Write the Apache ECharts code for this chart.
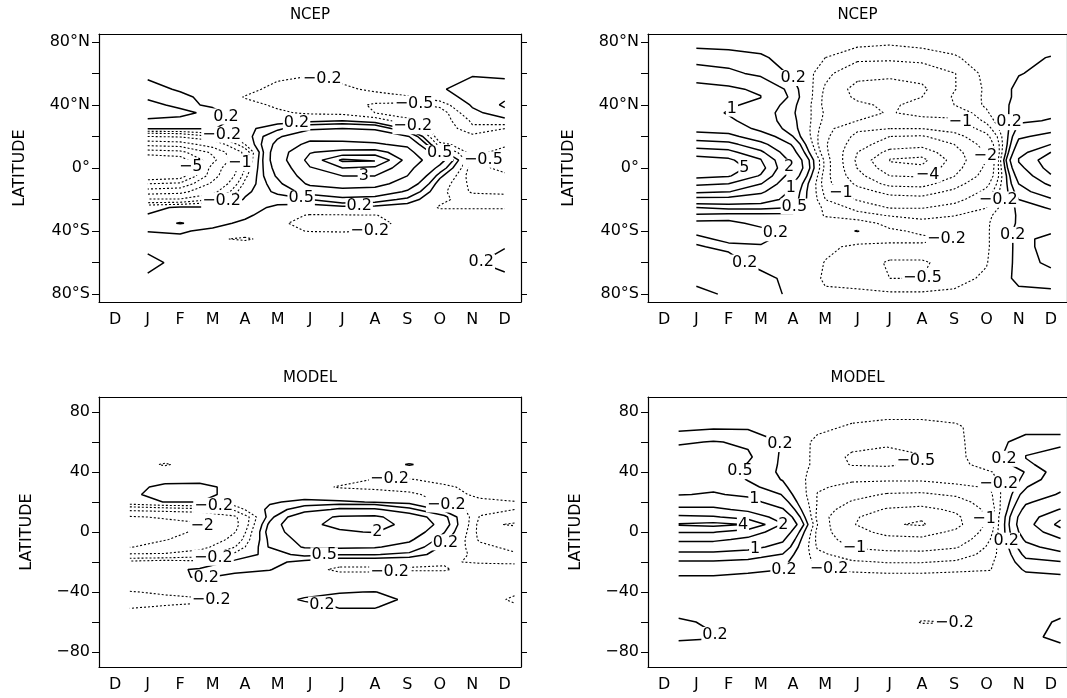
<!DOCTYPE html>
<html>
<head>
<meta charset="utf-8">
<title>NCEP / MODEL</title>
<script src="https://cdn.jsdelivr.net/npm/echarts@6.0.0/dist/echarts.min.js"></script>
<style>
  html, body { margin: 0; padding: 0; background: #fff; }
  #chart { width: 1067px; height: 698px; }
</style>
</head>
<body>
<div id="chart"></div>
<script>
// month labels, D J F ... D
const months = ['D','J','F','M','A','M','J','J','A','S','O','N','D'];
// latitude of each grid row (north to south)
const lats = [80,70,60,50,45,40,35,30,25,20,15,10,5,0,-5,-10,-15,-20,-25,-30,-35,-40,-45,-50,-60,-70,-80];
// month position of the columns: NCEP is Jan..Dec, model output is slightly shifted
const ncepX = [1,2,3,4,5,6,7,8,9,10,11,12];
const modelX = [0.45,1.53,2.6,3.68,4.76,5.83,6.91,7.99,9.06,10.14,11.22,12.3];
// contour levels (negative ones dashed)
const levels = [-5,-4,-3,-2,-1,-0.5,-0.2,0.2,0.5,1,2,3,4,5];
// latitude ticks
const ncepTicks = [-80,-60,-40,-20,0,20,40,60,80];
const ncepTickLabels = [-80,-40,0,40,80];
const modelTicks = [-80,-60,-40,-20,0,20,40,60,80];
const modelTickLabels = [-80,-40,0,40,80];

// NCEP, left panel (rows = lats, cols = ncepX)
const ncepLeft = [
  [0,0,0,0,0,0,0,0,0,0,0,0],
  [0,0,0,0,0,0,0,0,0,0,0.05,0],
  [0.1,0.05,0,0,-0.1,-0.18,-0.1,-0.05,0,0.1,0.15,0.1],
  [0.35,0.15,0,-0.1,-0.3,-0.3,-0.25,-0.15,-0.1,0.15,0.4,0.4],
  [0.25,0.3,0.05,-0.22,-0.3,-0.35,-0.35,-0.3,-0.22,0,0.35,0.45],
  [0.1,0.28,0.15,-0.1,-0.25,-0.3,-0.35,-0.55,-0.6,-0.4,0.25,0.55],
  [0.05,0.1,0.3,0,-0.15,-0.25,-0.3,-0.5,-0.7,-0.7,0.1,0.4],
  [0.25,0.3,0.3,0.1,0.05,0.1,0.2,0,-0.4,-0.7,-0.15,0.1],
  [0.22,0.22,0.21,0.1,0.4,0.9,1.0,0.9,0.1,-0.8,-0.25,-0.5],
  [-1.0,-0.9,-0.5,0,0.9,1.6,1.7,1.6,1.1,-0.8,-0.6,-0.6],
  [-2.7,-2.5,-1.5,-0.2,1.2,2.3,2.2,2.1,1.8,-0.4,-0.7,-0.6],
  [-4.5,-4.3,-2.8,-0.8,1.5,2.95,3.3,3.4,2.4,0.4,-0.7,-0.3],
  [-6,-5.6,-3.3,-0.7,1.5,3.3,5.2,5.15,2.6,1.3,-0.6,-0.3],
  [-7,-6.2,-2.6,-0.5,1.3,2.95,4.0,3.8,2.3,0.8,-0.7,-0.35],
  [-6,-5.6,-2.4,-0.3,1.1,2.6,3.0,3.0,2.0,0.3,-0.7,-0.6],
  [-4,-3.8,-1.8,-0.1,0.8,2.2,2.5,2.4,1.5,0,-0.6,-0.7],
  [-2.5,-2.3,-1.2,0.1,0.6,1.3,1.6,1.5,0.9,-0.1,-0.55,-0.55],
  [-0.9,-0.9,-0.5,0.25,0.3,0.5,0.8,0.7,0.4,-0.15,-0.3,-0.4],
  [0.1,0.25,0.25,0.3,0.15,0,0.1,0.1,0,-0.22,-0.22,-0.22],
  [0.22,0.3,0.3,0.3,-0.1,-0.22,-0.22,-0.21,-0.1,-0.1,-0.1,-0.1],
  [0.35,0.52,0.35,0.1,-0.15,-0.3,-0.3,-0.25,-0.15,0,0,0],
  [0.21,0.25,0.1,0,-0.15,-0.21,-0.22,-0.2,-0.1,0,0,0],
  [0.1,0.12,-0.15,-0.25,-0.05,-0.05,-0.05,-0.05,0,0,0.05,0.05],
  [0.12,0.1,0.05,0,0,0,0,0,0,0,0.1,0.18],
  [0.3,0.1,0,0,0,0,0,0,0,0,0.15,0.35],
  [0.15,0.05,0,0,0,0,0,0,0,0,0.05,0.1],
  [0,0,0,0,0,0,0,0,0,0,0,0]
];

// NCEP, right panel
const ncepRight = [
  [0.1,0.1,0.05,0,0,-0.1,-0.15,-0.1,0,0,0,0],
  [0.35,0.3,0.25,0.05,-0.2,-0.4,-0.4,-0.35,-0.25,0,0.1,0.22],
  [0.7,0.6,0.4,0.15,-0.4,-0.8,-0.9,-0.8,-0.52,-0.1,0.18,0.3],
  [1.2,1.1,0.9,0.35,-0.55,-1.2,-1.2,-1.1,-0.52,-0.15,0.3,0.35],
  [1.3,1.15,1.02,0.4,-0.6,-1.1,-1.1,-1.0,-0.45,-0.15,0.3,0.4],
  [1.4,1.1,0.8,0.3,-0.6,-0.9,-1.1,-0.8,-0.5,-0.15,0.35,0.4],
  [1.3,0.95,0.7,0.25,-0.55,-0.8,-1.05,-0.8,-0.8,-0.25,0.4,0.45],
  [1.2,1.1,0.7,0.3,-0.6,-1.0,-1.1,-1.2,-1.1,-0.4,0.45,0.52],
  [1.6,1.5,0.8,0.35,-0.7,-1.8,-2.0,-2.0,-1.6,-0.7,0.6,0.8],
  [2.5,2.3,1.4,0.5,-0.8,-2.3,-3.0,-3.1,-2.4,-1.2,0.9,1.2],
  [3.5,3.3,2.3,0.9,-0.9,-2.6,-3.5,-3.7,-3.0,-1.6,1.2,2.0],
  [4.5,4.3,3.2,1.2,-0.8,-3.0,-4.3,-4.5,-3.4,-1.9,1.6,3.0],
  [5.5,5.2,4.1,1.6,-0.6,-3.2,-5.1,-5.3,-3.6,-2.0,2.1,3.6],
  [5.8,5.6,4.4,1.7,-0.6,-3.05,-4.6,-4.8,-3.4,-1.8,1.7,3.4],
  [5.3,5.1,3.9,1.4,-0.7,-2.7,-4.0,-4.1,-3.05,-1.6,1.3,2.9],
  [4.2,4.0,3.05,1.0,-0.7,-2.2,-3.3,-3.4,-2.4,-1.2,1.0,2.2],
  [3.2,3.05,2.2,0.8,-0.6,-1.6,-2.3,-2.4,-1.8,-0.8,0.7,1.5],
  [1.6,1.6,1.4,0.7,-0.5,-1.05,-1.6,-1.7,-1.2,-0.6,0.5,0.9],
  [0.5,0.6,0.6,0.52,-0.3,-0.6,-1.05,-1.05,-0.8,-0.52,0.3,0.55],
  [0.15,0.1,0.1,0.1,-0.22,-0.4,-0.52,-0.6,-0.52,-0.3,0.25,0.35],
  [0.22,0.25,0.15,0.05,-0.1,-0.05,-0.3,-0.4,-0.3,-0.25,0.25,0.3],
  [0.25,0.3,0.25,0.15,0,0.22,-0.15,-0.25,-0.25,-0.25,0.3,0.25],
  [0.15,0.25,0.25,0.1,-0.1,-0.1,-0.15,-0.15,-0.21,-0.25,0.3,0.1],
  [0.22,0.15,0.18,0.05,-0.15,-0.25,-0.25,-0.25,-0.25,-0.25,0.3,0.1],
  [0.35,0.3,0.1,0,-0.21,-0.3,-0.55,-0.55,-0.35,-0.22,0.3,0.15],
  [0.3,0.4,0.3,0.1,-0.25,-0.3,-0.5,-0.5,-0.3,-0.15,0.3,0.3],
  [0.1,0.25,0.3,0.15,-0.15,-0.15,-0.15,-0.15,-0.15,-0.1,0.1,0.15]
];

// MODEL, left panel (cols = modelX)
const modelLeft = [
  [0,0,0,0,0,0,0,0,0,0,0,0],
  [0,0,0,0,0,0,0,0,0,0,0,0],
  [0,0,0,0,0,0,0,0,0,0,0,0],
  [-0.05,-0.1,-0.05,0,0,0,0,0,0.05,0.05,0,0],
  [-0.1,-0.22,-0.1,0,0,0,0,0.05,0.22,0.05,0,0],
  [-0.05,-0.1,-0.05,0,0,0,0,0,0.05,0,0,0],
  [0,0.1,0.1,0,0,-0.05,-0.1,-0.21,-0.22,-0.1,0,0],
  [0.1,0.28,0.3,0.1,-0.05,-0.1,-0.22,-0.25,-0.3,-0.25,-0.1,0],
  [0.15,0.3,0.3,0.1,0,0,-0.05,-0.1,-0.15,-0.3,-0.15,0],
  [0.05,0.21,0.21,0,0.15,0.3,0.25,0.18,0.1,-0.3,-0.25,-0.22],
  [-0.8,-0.7,-0.6,-0.4,0.3,0.7,1.1,1.1,0.6,0.1,-0.4,-0.5],
  [-2.1,-1.9,-1.7,-1.1,0.35,1.6,2.1,2.2,1.4,0.6,-0.52,-0.7],
  [-2.4,-2.3,-2.1,-1.2,0.6,1.8,2.2,2.4,1.7,0.7,-0.6,-0.45],
  [-2.3,-2.2,-1.9,-1.05,0.7,1.4,1.9,2.05,1.4,0.52,-0.6,-0.75],
  [-2.2,-2.05,-1.6,-0.8,0.6,1.2,1.4,1.4,1.1,0.3,-0.55,-0.8],
  [-2.05,-1.6,-1.2,-0.52,0.55,1.05,1.1,1.05,0.8,0.1,-0.4,-0.6],
  [-0.9,-0.9,-0.7,-0.1,0.35,0.6,0.52,0.52,0.4,0,-0.3,-0.45],
  [-0.1,0,-0.1,0.3,0.3,0.1,-0.1,-0.1,-0.15,-0.18,-0.22,-0.25],
  [0,0.1,0.25,0.3,0.22,-0.1,-0.25,-0.25,-0.22,-0.22,-0.1,-0.05],
  [0,0.05,0.25,0.1,0,-0.05,-0.1,-0.1,-0.1,-0.1,0,0],
  [0,0,0.1,0,0,0,0,0,0,0,0,0],
  [-0.22,-0.15,-0.05,0,0,0.05,0.18,0.21,0.05,0,-0.05,-0.15],
  [-0.3,-0.28,-0.25,-0.1,0,0.25,0.3,0.3,0.15,0,-0.05,-0.25],
  [-0.22,-0.18,-0.15,-0.05,0,0.05,0.22,0.22,0.05,0,0,-0.15],
  [0,0,0,0,0,0,0,0,0,0,0,0],
  [0,0,0,0,0,0,0,0,0,0,0,0],
  [0,0,0,0,0,0,0,0,0,0,0,0]
];

// MODEL, right panel
const modelRight = [
  [0,0,0,0,0,-0.05,-0.1,-0.1,-0.05,0,0,0],
  [0.1,0.15,0.15,0.1,-0.1,-0.25,-0.3,-0.3,-0.25,0,0.1,0.05],
  [0.45,0.52,0.45,0.18,-0.3,-0.4,-0.45,-0.4,-0.3,0.1,0.3,0.35],
  [0.7,0.75,0.55,0.15,-0.3,-0.55,-0.6,-0.52,-0.3,0.05,0.52,0.8],
  [0.75,0.8,0.48,0.15,-0.3,-0.52,-0.55,-0.45,-0.3,-0.05,0.4,0.8],
  [0.8,0.8,0.4,0.15,-0.35,-0.35,-0.35,-0.35,-0.3,-0.22,0.22,0.7],
  [0.85,0.8,0.48,0.18,-0.4,-0.45,-0.45,-0.45,-0.35,-0.3,0.3,0.75],
  [0.9,0.9,0.6,0.3,-0.45,-0.6,-0.7,-0.7,-0.6,-0.45,0.48,0.9],
  [0.97,1.05,0.9,0.48,-0.52,-0.8,-1.05,-1.1,-0.9,-0.55,0.7,1.05],
  [1.5,1.5,1.2,0.7,-0.52,-1.05,-1.5,-1.6,-1.3,-0.6,0.9,1.4],
  [2.2,2.2,1.8,1.05,-0.55,-1.4,-2.1,-2.3,-1.8,-0.7,1.2,2.05],
  [3.2,3.1,2.6,1.6,-0.6,-1.8,-2.7,-2.9,-2.2,-0.7,1.5,2.8],
  [4.1,4.3,3.95,2.05,-0.5,-1.9,-2.9,-3.1,-2.3,-0.7,1.6,3.3],
  [3.05,3.05,2.5,1.5,-0.6,-1.6,-2.3,-2.4,-1.8,-0.6,1.4,2.6],
  [2.2,2.2,1.8,1.1,-0.6,-1.3,-1.7,-1.8,-1.4,-0.48,1.1,1.9],
  [1.4,1.4,1.2,0.8,-0.55,-1.05,-1.2,-1.25,-1.05,-0.4,0.8,1.3],
  [0.8,0.8,0.7,0.48,-0.4,-0.7,-0.8,-0.8,-0.7,-0.35,0.6,0.8],
  [0.45,0.45,0.4,0.3,-0.3,-0.45,-0.52,-0.52,-0.45,-0.25,0.4,0.48],
  [0.3,0.3,0.25,0.22,-0.15,-0.25,-0.3,-0.3,-0.25,-0.22,0.25,0.3],
  [0.18,0.18,0.15,0.1,-0.05,-0.1,-0.1,-0.1,-0.1,-0.05,0.1,0.15],
  [0.1,0.1,0.05,0.05,0,0,0,0,0,0,0.05,0.05],
  [0.05,0.05,0,0,0,0,0,0,0,0,0,0],
  [0,0,0,0,0,0,0,0,0,0,0,0],
  [0.05,0.05,0,0,0,0,0,0,0,0,0,0.05],
  [0.25,0.15,0,0,0,0,0,-0.22,-0.21,0,0.05,0.25],
  [0.25,0.22,0,0,0,0,0,0,0,0,0.1,0.3],
  [0.05,0.05,0,0,0,0,0,0,0,0,0,0.05]
];

const FONT = 'DejaVu Sans, Verdana, sans-serif';
const W = 422;

const latFmt = v => v > 0 ? v + '°N' : v < 0 ? (-v) + '°S' : '0°';
const numFmt = v => v < 0 ? '\u2212' + (-v) : String(v);

const panels = [
  { name: 'NCEP',  xs: ncepX,  z: ncepLeft,   left: 99,  top: 34,  height: 268, yMin: -85, yMax: 85, ticks: ncepTicks,  tickLabels: ncepTickLabels,  fmt: latFmt, nameGap: 71 },
  { name: 'NCEP',  xs: ncepX,  z: ncepRight,  left: 648, top: 34,  height: 268, yMin: -85, yMax: 85, ticks: ncepTicks,  tickLabels: ncepTickLabels,  fmt: latFmt, nameGap: 71 },
  { name: 'MODEL', xs: modelX, z: modelLeft,  left: 99,  top: 397, height: 270, yMin: -90, yMax: 90, ticks: modelTicks, tickLabels: modelTickLabels, fmt: numFmt, nameGap: 64 },
  { name: 'MODEL', xs: modelX, z: modelRight, left: 648, top: 397, height: 270, yMin: -90, yMax: 90, ticks: modelTicks, tickLabels: modelTickLabels, fmt: numFmt, nameGap: 64 }
];

// marching squares on the (xs, lats) grid, returns polylines in data units
function traceContours(xs, z, level) {
  const pts = {}, adj = {};
  const R = lats.length, C = xs.length;
  const edge = (key, xa, ya, va, xb, yb, vb) => {
    if (!(key in pts)) {
      const t = (level - va) / (vb - va);
      pts[key] = [xa + t * (xb - xa), ya + t * (yb - ya)];
    }
    return key;
  };
  const link = (a, b) => {
    (adj[a] = adj[a] || []).push(b);
    (adj[b] = adj[b] || []).push(a);
  };
  for (let r = 0; r < R - 1; r++) {
    for (let c = 0; c < C - 1; c++) {
      const v0 = z[r][c], v1 = z[r][c + 1], v2 = z[r + 1][c + 1], v3 = z[r + 1][c];
      const x0 = xs[c], x1 = xs[c + 1], y0 = lats[r], y1 = lats[r + 1];
      const code = (v0 > level ? 1 : 0) | (v1 > level ? 2 : 0) | (v2 > level ? 4 : 0) | (v3 > level ? 8 : 0);
      if (code === 0 || code === 15) continue;
      const E = [
        () => edge('h' + r + '_' + c, x0, y0, v0, x1, y0, v1),
        () => edge('v' + r + '_' + (c + 1), x1, y0, v1, x1, y1, v2),
        () => edge('h' + (r + 1) + '_' + c, x0, y1, v3, x1, y1, v2),
        () => edge('v' + r + '_' + c, x0, y0, v0, x0, y1, v3)
      ];
      const centre = (v0 + v1 + v2 + v3) / 4 > level;
      let pairs;
      switch (code) {
        case 1: case 14: pairs = [[3, 0]]; break;
        case 2: case 13: pairs = [[0, 1]]; break;
        case 3: case 12: pairs = [[3, 1]]; break;
        case 4: case 11: pairs = [[1, 2]]; break;
        case 6: case 9: pairs = [[0, 2]]; break;
        case 7: case 8: pairs = [[3, 2]]; break;
        case 5: pairs = centre ? [[0, 1], [2, 3]] : [[3, 0], [1, 2]]; break;
        case 10: pairs = centre ? [[3, 0], [1, 2]] : [[0, 1], [2, 3]]; break;
      }
      pairs.forEach(p => link(E[p[0]](), E[p[1]]()));
    }
  }
  const used = new Set();
  const lines = [];
  const walk = start => {
    const chain = [start];
    used.add(start);
    let cur = start;
    for (;;) {
      const nb = (adj[cur] || []).find(k => !used.has(k));
      if (!nb) break;
      chain.push(nb);
      used.add(nb);
      cur = nb;
    }
    if (chain.length > 2 && (adj[cur] || []).includes(start)) chain.push(start);
    return chain.map(k => pts[k]);
  };
  Object.keys(adj).filter(k => adj[k].length === 1).forEach(k => { if (!used.has(k)) lines.push(walk(k)); });
  Object.keys(adj).forEach(k => { if (!used.has(k)) lines.push(walk(k)); });
  return lines;
}

// point at a fraction of a polyline's pixel length
function pointAlong(line, seg, total, frac) {
  let rest = total * frac, k = 0;
  while (k < seg.length - 1 && rest > seg[k]) { rest -= seg[k]; k++; }
  const t = seg[k] ? rest / seg[k] : 0;
  return [line[k][0] + t * (line[k + 1][0] - line[k][0]), line[k][1] + t * (line[k + 1][1] - line[k][1])];
}

const grid = [], xAxis = [], yAxis = [], series = [];
const axisLineStyle = { color: '#000', width: 1.2 };

panels.forEach((p, i) => {
  grid.push({ left: p.left, top: p.top, width: W, height: p.height });
  xAxis.push({
    type: 'category', gridIndex: i, data: months, position: 'bottom', boundaryGap: true,
    axisLine: { onZero: false, lineStyle: axisLineStyle },
    axisTick: { interval: 0, length: 5, lineStyle: { color: '#000' } },
    axisLabel: { interval: 0, color: '#000', fontSize: 16, margin: 10, fontFamily: FONT },
    splitLine: { show: false }
  });
  xAxis.push({
    type: 'category', gridIndex: i, data: months, position: 'top', boundaryGap: true,
    axisLine: { onZero: false, lineStyle: axisLineStyle },
    axisTick: { interval: 0, length: 4, lineStyle: { color: '#000' } },
    axisLabel: { show: false },
    name: p.name, nameLocation: 'middle', nameGap: 11,
    nameTextStyle: { color: '#000', fontSize: 15, fontFamily: FONT }
  });
  xAxis.push({ type: 'value', gridIndex: i, min: -0.5, max: 12.5, show: false, axisLine: { onZero: false } });
  yAxis.push({
    type: 'value', gridIndex: i, min: p.yMin, max: p.yMax, position: 'left',
    axisLine: { show: true, onZero: false, lineStyle: axisLineStyle },
    axisTick: { show: true, length: 7, customValues: p.ticks, lineStyle: { color: '#000' } },
    axisLabel: { customValues: p.tickLabels, formatter: p.fmt, color: '#000', fontSize: 16, margin: 9, fontFamily: FONT },
    splitLine: { show: false },
    name: 'LATITUDE', nameLocation: 'middle', nameRotate: 90, nameGap: p.nameGap,
    nameTextStyle: { color: '#000', fontSize: 16, fontFamily: FONT }
  });
  yAxis.push({
    type: 'value', gridIndex: i, min: p.yMin, max: p.yMax, position: 'right',
    axisLine: { show: true, onZero: false, lineStyle: axisLineStyle },
    axisTick: { show: true, length: 6, customValues: p.ticks, lineStyle: { color: '#000' } },
    axisLabel: { show: false },
    splitLine: { show: false }
  });

  const sx = W / 13, sy = p.height / (p.yMax - p.yMin);
  const candidates = [];
  levels.forEach(lv => {
    traceContours(p.xs, p.z, lv).forEach(line => {
      series.push({
        type: 'line', xAxisIndex: 3 * i + 2, yAxisIndex: 2 * i,
        data: line, symbol: 'none', silent: true, z: 2,
        lineStyle: lv > 0 ? { color: '#000', width: 1.5 } : { color: '#000', width: 1.1, type: [2, 2] }
      });
      // pixel length of each piece, used to pick where labels go
      const seg = [];
      let total = 0;
      for (let k = 1; k < line.length; k++) {
        const d = Math.hypot((line[k][0] - line[k - 1][0]) * sx, (line[k][1] - line[k - 1][1]) * sy);
        seg.push(d);
        total += d;
      }
      if (total < 50) return;
      const fracs = total > 230 ? [0.3, 0.7] : [0.5];
      fracs.forEach(f => {
        const pt = pointAlong(line, seg, total, f);
        candidates.push({ len: total, x: pt[0], y: pt[1], text: numFmt(lv) });
      });
    });
  });
  candidates.sort((a, b) => b.len - a.len);
  const placed = [];
  candidates.forEach(c => {
    const clash = placed.some(q => Math.abs((q.x - c.x) * sx) < 40 && Math.abs((q.y - c.y) * sy) < 18);
    if (!clash) placed.push(c);
  });
  series.push({
    type: 'scatter', xAxisIndex: 3 * i + 2, yAxisIndex: 2 * i, silent: true, z: 5,
    data: placed.map(c => [c.x, c.y, c.text]),
    symbolSize: 1, itemStyle: { color: '#fff', opacity: 1 },
    label: {
      show: true, position: 'inside', formatter: d => d.data[2],
      color: '#000', opacity: 1, fontSize: 16, fontFamily: FONT, backgroundColor: '#fff', padding: [0, 1]
    }
  });
});

const chart = echarts.init(document.getElementById('chart'));
chart.setOption({
  animation: false,
  backgroundColor: '#fff',
  grid, xAxis, yAxis, series
});
</script>
</body>
</html>
